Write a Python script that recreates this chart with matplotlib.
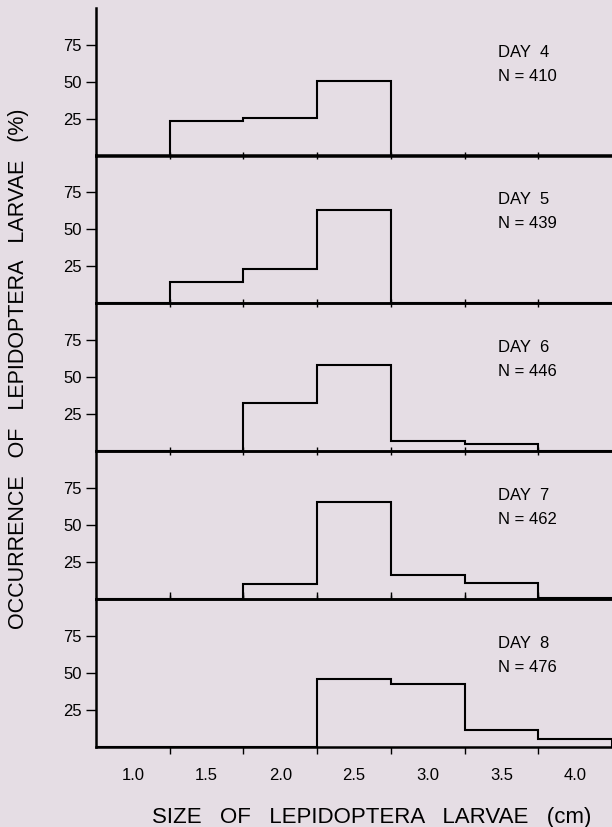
import matplotlib
matplotlib.use("Agg")
import matplotlib.pyplot as plt
import numpy as np

# ---- data ----
size_classes = [1.0, 1.5, 2.0, 2.5, 3.0, 3.5, 4.0]
tick_labels = ["1.0", "1.5", "2.0", "2.5", "3.0", "3.5", "4.0"]
days = ["DAY  4", "DAY  5", "DAY  6", "DAY  7", "DAY  8"]
n_labels = ["N = 410", "N = 439", "N = 446", "N = 462", "N = 476"]
day4 = [0, 23.5, 25.5, 51, 0, 0, 0]
day5 = [0, 14, 23, 63, 0, 0, 0]
day6 = [0, 0, 32.5, 58, 6.5, 5, 0]
day7 = [0, 0, 10, 65.5, 16, 10.5, 1]
day8 = [0, 0, 0, 46, 42.5, 11.5, 5.5]
series = [day4, day5, day6, day7, day8]
y_ticks = [25, 50, 75]

bg = "#e5dde4"
plt.rcParams['font.family'] = ['Liberation Sans', 'DejaVu Sans']

fig = plt.figure(figsize=(6.12, 8.27), dpi=100, facecolor=bg)

W, H = 612, 827
left_px, right_px = 96, 612
bottoms_px = [156, 303, 451, 599, 747]  # bottom edge (image y) of each panel
panel_h = 148

centers = np.array(size_classes)
half = (centers[1] - centers[0]) / 2
edges = np.append(centers - half, centers[-1] + half)
minor = edges[1:-1]

axes = []
for i, vals in enumerate(series):
    b = bottoms_px[i]
    ax = fig.add_axes([left_px / W, (H - b) / H, (right_px - left_px) / W, panel_h / H])
    ax.set_facecolor('none')
    ax.stairs(vals, edges, baseline=0, color='black', lw=1.5)
    ax.set_xlim(edges[0], edges[-1])
    ax.set_ylim(0, 100)
    ax.spines['right'].set_visible(False)
    if i == 0:
        ax.spines['top'].set_visible(False)
    for s in ['left', 'bottom', 'top']:
        ax.spines[s].set_linewidth(1.8)
    ax.set_yticks(y_ticks)
    ax.set_yticklabels([str(v) for v in y_ticks], fontsize=12)
    ax.tick_params(axis='y', direction='out', length=7, width=1.0, pad=3)
    ax.set_xticks(size_classes)
    ax.set_xticks(minor, minor=True)
    ax.tick_params(axis='x', which='major', length=0)
    if i == len(series) - 1:
        ax.set_xticklabels(tick_labels, fontsize=12)
        ax.tick_params(axis='x', which='major', pad=15)
        ax.tick_params(axis='x', which='minor', direction='out', length=5, width=1.0,
                       top=True, bottom=True)
    else:
        ax.set_xticklabels([])
        ax.tick_params(axis='x', which='minor', direction='in', length=3, width=1.0,
                       top=(i > 0), bottom=True)
    ax.text(3.48, 70, days[i], fontsize=12, va='center', ha='left')
    ax.text(3.48, 54, n_labels[i], fontsize=12, va='center', ha='left')
    axes.append(ax)

fig.text(372 / W, (H - 817) / H,
         "SIZE   OF   LEPIDOPTERA   LARVAE   (cm)", fontsize=16, ha='center', va='center')
fig.text(19 / W, (H - 369) / H,
         "OCCURRENCE   OF   LEPIDOPTERA   LARVAE   (%)", fontsize=15.5, ha='center',
         va='center', rotation=90)

fig.savefig("out.png", dpi=100, facecolor=bg)
